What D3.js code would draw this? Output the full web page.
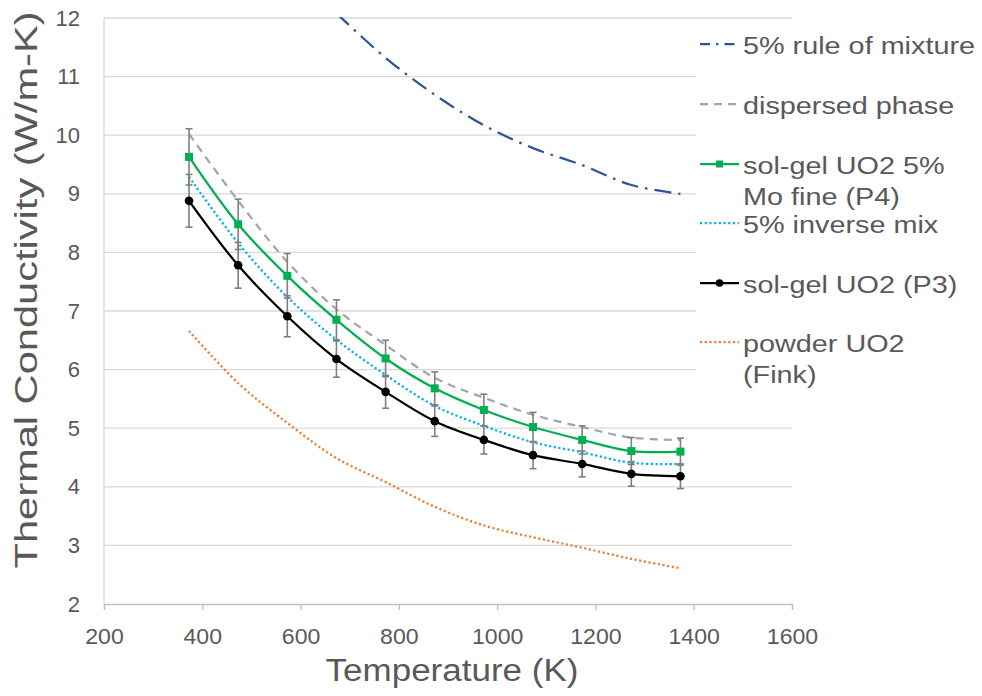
<!DOCTYPE html>
<html>
<head>
<meta charset="utf-8">
<script src="https://cdn.jsdelivr.net/npm/d3@7/dist/d3.min.js"></script>
<style>
  html, body { margin: 0; padding: 0; background: #fff; }
  svg text { font-family: "Liberation Sans", Arial, sans-serif; fill: #595959; }
</style>
</head>
<body>
<script>
// ---- data ----
const temps = [373, 473, 573, 673, 773, 873, 973, 1073, 1173, 1273, 1373];
const ruleOfMixture = [null, null, null, 12.08, 11.32, 10.69, 10.17, 9.78, 9.49, 9.15, 9.0];
const dispersedPhase = [10.02, 8.88, 7.84, 7.03, 6.42, 5.86, 5.52, 5.23, 5.02, 4.84, 4.80];
const solGelP4 = [9.63, 8.48, 7.60, 6.85, 6.19, 5.68, 5.31, 5.02, 4.80, 4.61, 4.60];
const solGelP4Err = [0.48, 0.43, 0.38, 0.34, 0.31, 0.28, 0.27, 0.25, 0.24, 0.23, 0.23];
const inverseMix = [9.29, 8.16, 7.24, 6.51, 5.91, 5.38, 5.04, 4.76, 4.59, 4.41, 4.39];
const solGelP3 = [8.88, 7.78, 6.91, 6.18, 5.62, 5.12, 4.80, 4.54, 4.39, 4.22, 4.18];
const solGelP3Err = [0.45, 0.39, 0.35, 0.31, 0.28, 0.26, 0.24, 0.23, 0.22, 0.21, 0.21];
const powderFink = [6.66, 5.77, 5.09, 4.49, 4.08, 3.66, 3.34, 3.14, 2.96, 2.77, 2.61];
const xTicks = [200, 400, 600, 800, 1000, 1200, 1400, 1600];
const yTicks = [2, 3, 4, 5, 6, 7, 8, 9, 10, 11, 12];
const legendLabels = [
  ["5% rule of mixture"],
  ["dispersed phase"],
  ["sol-gel UO2 5%", "Mo fine (P4)"],
  ["5% inverse mix"],
  ["sol-gel UO2 (P3)"],
  ["powder UO2", "(Fink)"]
];

// ---- layout ----
const W = 982, H = 696;
const L = 104, R = 792, T = 18, B = 604;

const svg = d3.select("body").append("svg").attr("width", W).attr("height", H);
const x = d3.scaleLinear().domain([200, 1600]).range([L, R]);
const y = d3.scaleLinear().domain([2, 12]).range([B, T]);

svg.append("clipPath").attr("id", "clip")
  .append("rect").attr("x", L).attr("y", T - 1).attr("width", R - L).attr("height", B - T + 2);

// gridlines
svg.append("g").selectAll("line").data(yTicks.filter(d => d !== 2)).join("line")
  .attr("x1", L).attr("x2", R).attr("y1", d => y(d)).attr("y2", d => y(d))
  .attr("stroke", "#d9d9d9").attr("stroke-width", 1.3);

// y axis line
svg.append("line").attr("x1", L).attr("x2", L).attr("y1", T).attr("y2", B)
  .attr("stroke", "#d9d9d9").attr("stroke-width", 1.3);

// x axis
const xAxis = svg.append("g").attr("transform", `translate(0,${B})`)
  .call(d3.axisBottom(x).tickValues(xTicks).tickSize(6).tickPadding(18).tickFormat(d3.format("d")));
xAxis.select(".domain").attr("stroke", "#bfbfbf").attr("stroke-width", 1.3);
xAxis.selectAll(".tick line").attr("stroke", "#bfbfbf").attr("stroke-width", 1.3);
xAxis.selectAll("text").attr("font-size", 22).style("fill", "#595959")
  .attr("font-family", "Liberation Sans, Arial, sans-serif")
  .attr("transform", "scale(1.05,1)");

// y axis labels
const yAxis = svg.append("g").attr("transform", `translate(${L},0)`)
  .call(d3.axisLeft(y).tickValues(yTicks).tickSize(0).tickPadding(24).tickFormat(d3.format("d")));
yAxis.select(".domain").remove();
yAxis.selectAll("text").attr("font-size", 22).style("fill", "#595959")
  .attr("font-family", "Liberation Sans, Arial, sans-serif");

// axis titles
svg.append("text").attr("transform", `translate(${(L + R) / 2 + 4},681) scale(1.13,1)`)
  .attr("text-anchor", "middle").attr("font-size", 31).text("Temperature (K)");
svg.append("text").attr("transform", `translate(37,290) rotate(-90) scale(1.3,1)`)
  .attr("text-anchor", "middle").attr("font-size", 32).text("Thermal Conductivity (W/m-K)");

// ---- series ----
const curve = d3.curveCatmullRom.alpha(0.5);
const mk = vals => temps.map((t, i) => ({ t, v: vals[i] })).filter(d => d.v !== null);
const lineGen = d3.line().x(d => x(d.t)).y(d => y(d.v)).curve(curve);

const series = [
  { vals: ruleOfMixture, color: "#2f5597", dash: "17,7,2.5,7", legDash: "10,6,2.5,6", w: 2.25 },
  { vals: dispersedPhase, color: "#a5a5a5", dash: "8,6", legDash: "8,6", w: 2.25 },
  { vals: solGelP4, color: "#00b050", dash: null, legDash: null, w: 2.25, marker: "square", err: solGelP4Err },
  { vals: inverseMix, color: "#00b0f0", dash: "2.2,2.5", legDash: "2.2,2.5", w: 2.25 },
  { vals: solGelP3, color: "#000000", dash: null, legDash: null, w: 2.25, marker: "circle", err: solGelP3Err },
  { vals: powderFink, color: "#ed7d31", dash: "2.2,2.5", legDash: "2.2,2.5", w: 2.25 }
];

const plot = svg.append("g").attr("clip-path", "url(#clip)");

series.forEach(s => {
  plot.append("path").datum(mk(s.vals)).attr("d", lineGen)
    .attr("fill", "none").attr("stroke", s.color).attr("stroke-width", s.w)
    .attr("stroke-dasharray", s.dash);
});

// error bars
series.filter(s => s.err).forEach(s => {
  const data = temps.map((t, i) => ({ t, v: s.vals[i], e: s.err[i] }));
  const g = plot.append("g").attr("stroke", "#7f7f7f").attr("stroke-width", 1.6);
  g.selectAll("line.v").data(data).join("line").attr("class", "v")
    .attr("x1", d => x(d.t)).attr("x2", d => x(d.t))
    .attr("y1", d => y(d.v + d.e)).attr("y2", d => y(d.v - d.e));
  g.selectAll("line.t").data(data).join("line").attr("class", "t")
    .attr("x1", d => x(d.t) - 3.5).attr("x2", d => x(d.t) + 3.5)
    .attr("y1", d => y(d.v + d.e)).attr("y2", d => y(d.v + d.e));
  g.selectAll("line.b").data(data).join("line").attr("class", "b")
    .attr("x1", d => x(d.t) - 3.5).attr("x2", d => x(d.t) + 3.5)
    .attr("y1", d => y(d.v - d.e)).attr("y2", d => y(d.v - d.e));
});

// markers
series.filter(s => s.marker).forEach(s => {
  const data = mk(s.vals);
  if (s.marker === "square") {
    plot.append("g").selectAll("rect").data(data).join("rect")
      .attr("x", d => x(d.t) - 4).attr("y", d => y(d.v) - 4)
      .attr("width", 8).attr("height", 8).attr("fill", s.color);
  } else {
    plot.append("g").selectAll("circle").data(data).join("circle")
      .attr("cx", d => x(d.t)).attr("cy", d => y(d.v)).attr("r", 4.3).attr("fill", s.color);
  }
});

// ---- legend ----
const leg = svg.append("g");
leg.append("rect").attr("x", 696).attr("y", 24).attr("width", W - 696).attr("height", 368).attr("fill", "#fff");
const legY = [44, 104, 164, 223, 283, 342];
series.forEach((s, i) => {
  const cy = legY[i];
  leg.append("line").attr("x1", 700).attr("x2", 739).attr("y1", cy).attr("y2", cy)
    .attr("stroke", s.color).attr("stroke-width", s.w)
    .attr("stroke-dasharray", s.legDash);
  if (s.marker === "square") {
    leg.append("rect").attr("x", 719.5 - 3.5).attr("y", cy - 3.5).attr("width", 7).attr("height", 7).attr("fill", s.color);
  } else if (s.marker === "circle") {
    leg.append("circle").attr("cx", 719.5).attr("cy", cy).attr("r", 3.8).attr("fill", s.color);
  }
  legendLabels[i].forEach((txt, j) => {
    leg.append("text").attr("transform", `translate(743,${cy + 10 + j * 31}) scale(1.2,1)`)
      .attr("font-size", 24).text(txt);
  });
});
</script>
</body>
</html>
